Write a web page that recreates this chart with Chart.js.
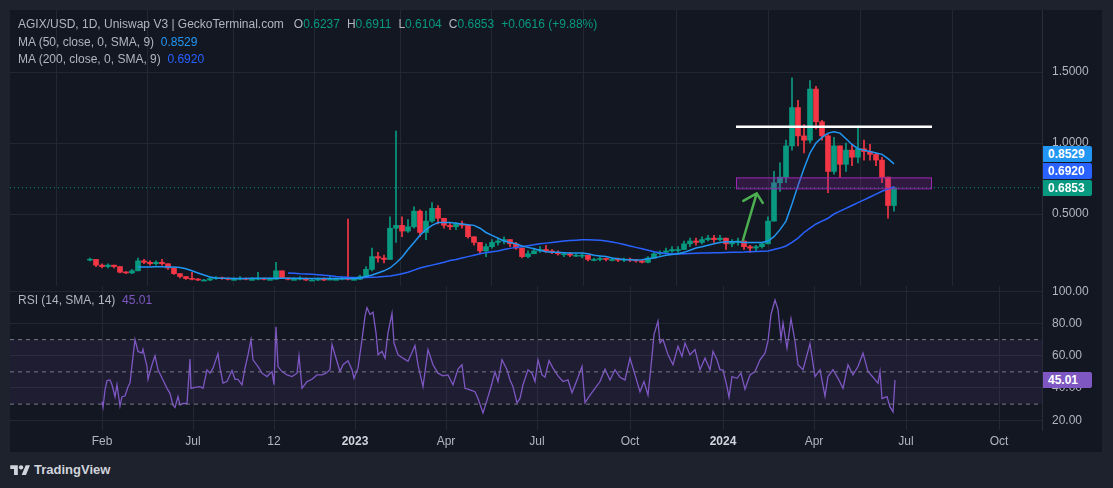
<!DOCTYPE html>
<html lang="en">
<head>
<meta charset="UTF-8">
<title>AGIX/USD 1D - Uniswap V3</title>
<style>
  body { margin: 0; background: #1e222d; font-family: "Liberation Sans", Arial, sans-serif; }
  #frame { position: absolute; left: 10px; top: 10px; width: 1092px; height: 442px; background: #131722; overflow: hidden; }
  .pane { position: absolute; left: 0; width: 1092px; }
  #pricePane { top: 0; height: 276px; }
  #rsiPane { top: 276px; height: 166px; }
  .legend { position: absolute; left: 8px; color: #b2b5be; font-size: 12px; line-height: 16px; white-space: nowrap; }
  .legend .v { margin-right: 7px; }
  .up { color: #089981; }
  .tag { position: absolute; left: 1033px; width: 49px; height: 16px; line-height: 16px; color: #fff; font-weight: bold; font-size: 12px; padding-left: 5px; box-sizing: border-box; border-radius: 0 2px 2px 0; }
  #footer { position: absolute; left: 10px; top: 462px; color: #d1d4dc; font-size: 13px; font-weight: bold; display: flex; align-items: center; }
  #footer svg { margin-right: 4px; }
</style>
</head>
<body>
<div id="frame">
  <div class="pane" id="pricePane">
    <canvas id="priceCanvas" width="1092" height="276"></canvas>
    <div class="legend" style="top:6px">AGIX/USD, 1D, Uniswap V3 | GeckoTerminal.com&nbsp;&nbsp; O<span class="up v">0.6237</span>H<span class="up v">0.6911</span>L<span class="up v">0.6104</span>C<span class="up v">0.6853</span><span class="up">+0.0616 (+9.88%)</span></div>
    <div class="legend" style="top:24px">MA (50, close, 0, SMA, 9)&nbsp; <span style="color:#2196f3">0.8529</span></div>
    <div class="legend" style="top:41px">MA (200, close, 0, SMA, 9)&nbsp; <span style="color:#2962ff">0.6920</span></div>
    <div class="tag" id="tagMa50" style="background:#2196f3">0.8529</div>
    <div class="tag" id="tagMa200" style="background:#2962ff">0.6920</div>
    <div class="tag" id="tagLast" style="background:#089981">0.6853</div>
  </div>
  <div class="pane" id="rsiPane">
    <canvas id="rsiCanvas" width="1092" height="166"></canvas>
    <div class="legend" style="top:6px">RSI (14, SMA, 14)&nbsp; <span style="color:#7e57c2">45.01</span></div>
    <div class="tag" id="tagRsi" style="background:#7e57c2">45.01</div>
  </div>
</div>
<div id="footer">
  <svg width="20" height="13" viewBox="0 0 36 24" fill="#d1d4dc"><path d="M14 22H7V11H0V4h14z"/><circle cx="20" cy="8" r="4"/><path d="M29 22h-8l7.5-18h8z"/></svg>
  TradingView
</div>

<script src="https://cdn.jsdelivr.net/npm/chart.js"></script>
<script>
// time axis is bar based (TradingView style), one unit = one daily bar
const axisStart = 10, axisEnd = 1042;
const tickBars = [102, 193, 274, 355, 446, 537, 630, 723, 814, 906, 999];
const tickLabels = ['Feb', 'Jul', '12', '2023', 'Apr', 'Jul', 'Oct', '2024', 'Apr', 'Jul', 'Oct'];

// candles, one every 6 bars
const firstBar = 90, barStep = 6;
const firstOpen = 0.175;
const closes = [
  0.18, 0.14, 0.13, 0.14, 0.13, 0.09, 0.085, 0.10, 0.17, 0.16,
  0.15, 0.16, 0.15, 0.12, 0.08, 0.06, 0.045, 0.04, 0.035, 0.035,
  0.045, 0.05, 0.045, 0.04, 0.04, 0.045, 0.04, 0.04, 0.045, 0.04,
  0.04, 0.10, 0.05, 0.04, 0.04, 0.045, 0.035, 0.035, 0.04, 0.035,
  0.04, 0.04, 0.045, 0.04, 0.04, 0.06, 0.11, 0.20, 0.19, 0.18,
  0.40, 0.42, 0.38, 0.41, 0.52, 0.37, 0.45, 0.54, 0.47, 0.42,
  0.41, 0.43, 0.42, 0.34, 0.30, 0.24, 0.27, 0.30, 0.31, 0.32,
  0.29, 0.26, 0.20, 0.22, 0.24, 0.25, 0.24, 0.23, 0.22, 0.22,
  0.21, 0.21, 0.21, 0.18, 0.18, 0.185, 0.18, 0.18, 0.175, 0.18,
  0.175, 0.17, 0.16, 0.19, 0.22, 0.23, 0.24, 0.25, 0.25, 0.29,
  0.31, 0.30, 0.32, 0.33, 0.32, 0.33, 0.29, 0.30, 0.31, 0.27,
  0.26, 0.27, 0.29, 0.45, 0.72, 0.76, 0.98, 1.25, 1.05, 1.02,
  1.38, 1.15, 1.05, 0.80, 0.98, 0.85, 0.95, 0.90, 0.96, 0.94,
  0.92, 0.88, 0.76, 0.56, 0.6853
];
const highs = [
  0.19, 0.18, 0.15, 0.15, 0.14, 0.13, 0.095, 0.11, 0.19, 0.18,
  0.17, 0.17, 0.18, 0.15, 0.12, 0.08, 0.06, 0.09, 0.045, 0.04,
  0.055, 0.06, 0.055, 0.05, 0.05, 0.06, 0.05, 0.05, 0.09, 0.05,
  0.05, 0.16, 0.10, 0.05, 0.05, 0.06, 0.05, 0.045, 0.05, 0.05,
  0.06, 0.05, 0.055, 0.465, 0.05, 0.07, 0.13, 0.26, 0.23, 0.21,
  0.48, 1.085, 0.48, 0.46, 0.55, 0.53, 0.52, 0.58, 0.56, 0.47,
  0.44, 0.44, 0.45, 0.42, 0.34, 0.30, 0.29, 0.32, 0.33, 0.34,
  0.32, 0.30, 0.26, 0.24, 0.26, 0.27, 0.28, 0.25, 0.24, 0.23,
  0.23, 0.22, 0.22, 0.21, 0.19, 0.20, 0.19, 0.19, 0.19, 0.19,
  0.19, 0.18, 0.175, 0.20, 0.23, 0.24, 0.26, 0.27, 0.27, 0.31,
  0.33, 0.33, 0.34, 0.35, 0.35, 0.35, 0.33, 0.32, 0.33, 0.31,
  0.28, 0.28, 0.30, 0.48, 0.80, 0.86, 1.02, 1.46, 1.30, 1.13,
  1.44, 1.40, 1.16, 1.06, 1.04, 0.98, 1.00, 0.99, 1.12, 1.02,
  0.99, 0.93, 0.90, 0.76, 0.6911
];
const lows = [
  0.17, 0.13, 0.12, 0.12, 0.12, 0.085, 0.08, 0.08, 0.10, 0.15,
  0.14, 0.14, 0.14, 0.11, 0.075, 0.05, 0.04, 0.035, 0.03, 0.03,
  0.03, 0.04, 0.04, 0.035, 0.035, 0.035, 0.035, 0.035, 0.035, 0.035,
  0.035, 0.04, 0.045, 0.035, 0.035, 0.035, 0.03, 0.03, 0.03, 0.03,
  0.035, 0.035, 0.035, 0.035, 0.035, 0.04, 0.06, 0.10, 0.16, 0.155,
  0.18, 0.30, 0.34, 0.37, 0.40, 0.34, 0.32, 0.44, 0.43, 0.40,
  0.39, 0.39, 0.40, 0.33, 0.28, 0.22, 0.20, 0.26, 0.28, 0.29,
  0.27, 0.25, 0.19, 0.19, 0.22, 0.23, 0.23, 0.22, 0.21, 0.20,
  0.20, 0.20, 0.19, 0.17, 0.17, 0.17, 0.17, 0.17, 0.165, 0.165,
  0.165, 0.16, 0.155, 0.155, 0.19, 0.21, 0.22, 0.23, 0.23, 0.25,
  0.27, 0.28, 0.29, 0.31, 0.30, 0.31, 0.25, 0.27, 0.28, 0.25,
  0.23, 0.24, 0.26, 0.29, 0.45, 0.66, 0.72, 0.95, 0.98, 0.93,
  1.00, 1.10, 1.02, 0.65, 0.78, 0.76, 0.80, 0.84, 0.86, 0.88,
  0.88, 0.84, 0.72, 0.47, 0.52
];
const ma50 = [
  null, null, null, null, null, null, null, null,
  0.127, 0.127, 0.127, 0.128, 0.128, 0.127, 0.126, 0.124, 0.115, 0.10,
  0.085, 0.07, 0.057, 0.05, 0.047, 0.047, 0.046, 0.046, 0.046, 0.047,
  0.047, 0.047, 0.047, 0.048, 0.048, 0.048, 0.047, 0.047, 0.046, 0.046,
  0.046, 0.046, 0.045, 0.045, 0.045, 0.045, 0.046, 0.05, 0.06, 0.07,
  0.085, 0.10, 0.12, 0.155, 0.195, 0.25, 0.30, 0.35, 0.39, 0.42,
  0.44, 0.44, 0.44, 0.435, 0.43, 0.425, 0.42, 0.40, 0.37, 0.35,
  0.33, 0.31, 0.30, 0.29, 0.275, 0.265, 0.255, 0.245, 0.235, 0.23,
  0.23, 0.228, 0.226, 0.225, 0.225, 0.22, 0.21, 0.205, 0.20, 0.19,
  0.185, 0.18, 0.178, 0.176, 0.178, 0.185, 0.19, 0.20, 0.21, 0.215,
  0.22, 0.23, 0.245, 0.26, 0.27, 0.28, 0.29, 0.30, 0.305, 0.305,
  0.305, 0.30, 0.30, 0.30, 0.30, 0.31, 0.34, 0.39, 0.45, 0.57,
  0.70, 0.82, 0.93, 1.00, 1.04, 1.07, 1.08, 1.07, 1.03, 0.99,
  0.96, 0.95, 0.94, 0.93, 0.92, 0.89, 0.8529
];
const ma200 = [
  null, null, null, null, null, null, null, null, null, null,
  null, null, null, null, null, null, null, null, null, null,
  null, null, null, null, null, null, null, null, null, null,
  null, null, null,
  0.085, 0.083, 0.08, 0.078, 0.075, 0.072, 0.068, 0.065, 0.06, 0.057,
  0.054, 0.052, 0.05, 0.052, 0.055, 0.057, 0.06, 0.063, 0.07, 0.08,
  0.09, 0.105, 0.12, 0.13, 0.14, 0.15, 0.16, 0.172, 0.18, 0.19,
  0.20, 0.21, 0.22, 0.228, 0.235, 0.24, 0.25, 0.258, 0.265, 0.27,
  0.277, 0.283, 0.29, 0.295, 0.30, 0.305, 0.31, 0.313, 0.316, 0.318,
  0.318, 0.317, 0.315, 0.31, 0.303, 0.295, 0.285, 0.275, 0.265, 0.255,
  0.245, 0.235, 0.228, 0.222, 0.218, 0.218, 0.22, 0.222, 0.224, 0.225,
  0.226, 0.227, 0.228, 0.229, 0.23, 0.231, 0.232, 0.234, 0.236, 0.238,
  0.24, 0.25, 0.26, 0.275, 0.30, 0.33, 0.37, 0.40, 0.43, 0.45,
  0.47, 0.50, 0.52, 0.54, 0.56, 0.58, 0.60, 0.62, 0.64, 0.66,
  0.675, 0.692
];
const lastClose = 0.6853;

// drawings on the price pane
const levelLine = [736, 932, 1.115];          // bar from, bar to, price
const zone = [736, 931, 0.681, 0.758];        // bar from, bar to, price low, price high
const arrowPath = [[743, 0.317], [756.7, 0.646], [743.3, 0.592], [756.7, 0.646], [762.7, 0.578]];

// RSI (14)
const rsiBars = [
  102,103,105,107,110,112,115,117,120,122,
  125,128,130,133,135,138,142,143,147,148,
  152,155,158,163,167,170,173,175,178,180,
  183,187,190,191,195,200,203,207,210,213,
  218,220,223,227,232,235,238,242,245,248,
  251,253,258,262,267,272,274,276,278,282,
  287,292,297,299,302,307,312,317,322,326,
  330,332,335,340,343,348,352,354,358,362,
  365,367,370,373,376,378,382,385,388,392,
  394,398,403,408,415,418,423,428,433,438,
  443,448,453,458,462,465,470,475,478,483,
  487,491,495,498,502,507,510,513,517,520,
  523,528,532,535,538,542,545,549,553,558,
  563,568,572,577,582,585,590,595,600,605,
  610,615,620,625,630,635,640,644,648,652,
  654,658,660,663,668,673,678,682,685,690,
  695,700,705,710,713,717,720,723,727,729,
  732,737,741,745,750,755,760,765,768,771,
  775,778,781,783,787,791,795,798,803,810,
  815,820,825,828,833,838,843,848,853,858,
  863,868,873,878,880,882,887,890,893,895
];
const rsiValues = [
  31.5, 28, 38.8, 44.6, 45, 42, 34.6, 42, 28.8, 34.6,
  35, 40.8, 43, 59.6, 70, 62.7, 61.7, 64, 53.3, 45.4,
  54.4, 60, 51.3, 45, 39.8, 36.7, 29.4, 28, 34.6, 29.4,
  30.4, 30.4, 58, 39.8, 40.4, 40.8, 39.8, 51.3, 49.2, 52.3,
  61.3, 52.3, 43, 44, 50.8, 45.4, 45.4, 42, 52.3, 60.6,
  70, 57.5, 53.3, 49.2, 47.1, 50.2, 42, 78, 53.3, 50.2,
  48.1, 47.1, 49.2, 60, 39.8, 44, 45.4, 48.1, 48.1, 49.2,
  51.3, 66.9, 60.6, 50.2, 54.4, 56.9, 51.3, 46, 52.3, 70,
  84.6, 89.8, 85.6, 87, 74.2, 60.6, 62.7, 58.5, 74.2, 86.3,
  67.9, 60.6, 58.5, 56.5, 66.3, 54.4, 40.8, 63.8, 54.4, 49.2,
  47.5, 48.1, 42, 51.7, 54.4, 39.8, 38.8, 37.7, 33.5, 24.6,
  32.5, 40.8, 50, 44, 57.5, 51.3, 45, 40.8, 30.8, 33.5,
  42, 51.3, 49.2, 44, 57.5, 48.1, 46.7, 57, 52.3, 47.5,
  44, 45, 37, 45, 53.3, 30.8, 35.6, 39.8, 44, 51.7,
  45, 51.3, 46.7, 45, 58.5, 48.1, 37.7, 44, 35.6, 59.6,
  73.1, 81.5, 67.9, 70, 60.6, 54.4, 65.8, 59.6, 67.9, 60.6,
  63.8, 51.3, 58.5, 51.3, 62.7, 57.5, 51.3, 51.3, 40.8, 34.2,
  47.1, 46, 49.2, 39.2, 48.1, 50.2, 57.5, 61.6, 69, 85.6,
  94.6, 88.8, 70.4, 80.4, 64.8, 83, 69, 54.4, 51.3, 67.5,
  47.1, 51.3, 35, 47.1, 51.3, 46, 39.8, 54.4, 48.1, 53.3,
  61.6, 50.2, 46.7, 43, 50.2, 33.5, 34.6, 28.3, 25.2, 45.01
];
const rsiLast = 45.01;
const priceTicks = [0.5, 1.0, 1.5];
const rsiTicks = [20, 40, 60, 80, 100];

const UP = '#089981', DOWN = '#f23645';
const GRID = '#232733';
const TEXT = '#b2b5be';
const FONT = '"Liberation Sans", Arial, sans-serif';

const bars = closes.map((c, i) => firstBar + i * barStep);
const opens = closes.map((c, i) => i ? closes[i - 1] : firstOpen);
const candleColors = closes.map((c, i) => c >= opens[i] ? UP : DOWN);

const zonePlugin = {
  id: 'zone',
  afterDatasetsDraw(chart) {
    const { ctx, scales: { x, y }, chartArea } = chart;
    const x0 = x.getPixelForValue(zone[0]), x1 = x.getPixelForValue(zone[1]);
    const y0 = y.getPixelForValue(zone[3]), y1 = y.getPixelForValue(zone[2]);
    ctx.save();
    ctx.beginPath();
    ctx.rect(chartArea.left, chartArea.top, chartArea.width, chartArea.height);
    ctx.clip();
    ctx.fillStyle = 'rgba(156, 39, 176, 0.22)';
    ctx.fillRect(x0, y0, x1 - x0, y1 - y0);
    ctx.strokeStyle = '#9c27b0';
    ctx.lineWidth = 1;
    ctx.strokeRect(x0 + 0.5, y0 + 0.5, x1 - x0, y1 - y0);
    ctx.restore();
  }
};

function noPad(s) {
  s.paddingTop = 0; s.paddingBottom = 0; s.paddingLeft = 0; s.paddingRight = 0;
}

function xAxis(showLabels) {
  return {
    type: 'linear', min: axisStart, max: axisEnd, offset: false,
    grid: { color: GRID, drawTicks: false },
    border: { display: !showLabels, color: '#2a2e39' },
    afterBuildTicks: s => { s.ticks = tickBars.map(v => ({ value: v })); },
    afterFit: s => { s.height = showLabels ? 22 : 0; noPad(s); },
    ticks: {
      display: showLabels, autoSkip: false, maxRotation: 0, padding: 4,
      callback: (v, i) => tickLabels[i],
      color: ctx => /^\d{4}$/.test(tickLabels[ctx.index]) ? '#d1d4dc' : TEXT,
      font: ctx => ({ family: FONT, size: 12, weight: /^\d{4}$/.test(tickLabels[ctx.index]) ? 'bold' : 'normal' })
    }
  };
}

function yAxis(min, max, tickValues, digits) {
  return {
    position: 'right', min: min, max: max,
    grid: { color: GRID, drawTicks: false },
    border: { color: '#2a2e39' },
    afterBuildTicks: s => { s.ticks = tickValues.map(v => ({ value: v })); },
    afterFit: s => { s.width = 60; noPad(s); },
    ticks: { color: TEXT, padding: 10, font: { size: 12 }, callback: v => v.toFixed(digits) }
  };
}

function lineSet(points, color, width, extra) {
  return Object.assign({
    type: 'line', data: points, borderColor: color, borderWidth: width,
    pointRadius: 0, tension: 0, fill: false, spanGaps: false
  }, extra || {});
}

Chart.defaults.font.family = FONT;

const priceChart = new Chart(document.getElementById('priceCanvas'), {
  type: 'bar',
  data: {
    datasets: [
      lineSet(bars.map((b, i) => ({ x: b, y: ma50[i] })), '#2196f3', 1.5, { order: 0 }),
      lineSet(bars.map((b, i) => ({ x: b, y: ma200[i] })), '#2962ff', 1.5, { order: 0 }),
      lineSet([{ x: axisStart, y: lastClose }, { x: axisEnd, y: lastClose }], UP, 1, { borderDash: [1, 3], order: 0 }),
      lineSet([{ x: levelLine[0], y: levelLine[2] }, { x: levelLine[1], y: levelLine[2] }], '#ffffff', 2.5, { order: 0 }),
      lineSet(arrowPath.map(p => ({ x: p[0], y: p[1] })), '#4caf50', 2.5, { order: 0, borderCapStyle: 'round', borderJoinStyle: 'round' }),
      {
        data: bars.map((b, i) => ({ x: b, y: [opens[i], closes[i]] })),
        backgroundColor: candleColors, barThickness: 5, grouped: false, minBarLength: 1, order: 1
      },
      {
        data: bars.map((b, i) => ({ x: b, y: [Math.min(lows[i], opens[i], closes[i]), Math.max(highs[i], opens[i], closes[i])] })),
        backgroundColor: candleColors, barThickness: 1, grouped: false, order: 2
      }
    ]
  },
  options: {
    responsive: false, animation: false,
    layout: { padding: 0 },
    plugins: { legend: { display: false }, tooltip: { enabled: false } },
    scales: { x: xAxis(false), y: yAxis(-0.007, 1.937, priceTicks, 4) }
  },
  plugins: [zonePlugin]
});

const rsiChart = new Chart(document.getElementById('rsiCanvas'), {
  type: 'line',
  data: {
    datasets: [
      lineSet([{ x: axisStart, y: 70 }, { x: axisEnd, y: 70 }], '#787b86', 1, { borderDash: [4, 4] }),
      lineSet([{ x: axisStart, y: 30 }, { x: axisEnd, y: 30 }], '#787b86', 1, { borderDash: [4, 4], fill: '-1', backgroundColor: 'rgba(126, 87, 194, 0.1)' }),
      lineSet([{ x: axisStart, y: 50 }, { x: axisEnd, y: 50 }], '#787b86', 1, { borderDash: [4, 4] }),
      lineSet(rsiBars.map((b, i) => ({ x: b, y: rsiValues[i] })), '#7e57c2', 1.3)
    ]
  },
  options: {
    responsive: false, animation: false,
    layout: { padding: 0 },
    plugins: { legend: { display: false }, tooltip: { enabled: false } },
    scales: { x: xAxis(true), y: yAxis(13.95, 103.26, rsiTicks, 2) }
  }
});

// price scale tags
const lastY = priceChart.scales.y.getPixelForValue(lastClose);
document.getElementById('tagLast').style.top = (lastY - 8) + 'px';
document.getElementById('tagMa200').style.top = (lastY - 25) + 'px';
document.getElementById('tagMa50').style.top = (lastY - 42) + 'px';
document.getElementById('tagRsi').style.top = (rsiChart.scales.y.getPixelForValue(rsiLast) - 8) + 'px';
</script>
</body>
</html>
